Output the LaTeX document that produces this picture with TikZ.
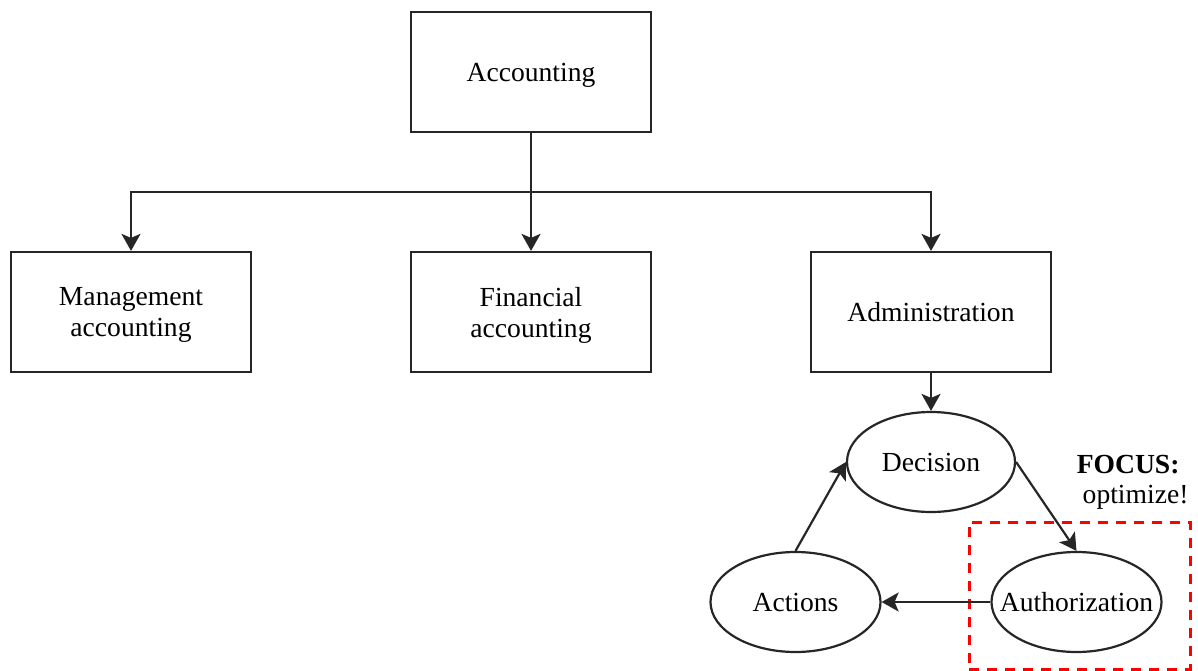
\documentclass[tikz,border=0pt]{standalone}
\usepackage{fontspec}
\setmainfont{Liberation Serif}
\usetikzlibrary{shapes.geometric,arrows.meta}
\tikzset{
  every node/.style={font=\fontsize{27.6}{31}\selectfont},
  boxnode/.style={draw=black!85, line width=2.2pt, minimum width=240pt, minimum height=120pt, inner sep=0pt, align=center, text depth=0pt},
  ellnode/.style={ellipse, draw=black!85, line width=2.2pt, minimum width=170pt, minimum height=100pt, inner sep=0pt},
  arr/.style={draw=black!85, line width=2.2pt, -{Stealth[length=17pt,width=19pt,inset=4pt]}},
  focusbox/.style={draw=red, line width=3pt, dash pattern=on 10pt off 8pt, minimum width=221pt, minimum height=147pt, inner sep=0pt},
}
\begin{document}
\begin{tikzpicture}[x=1pt,y=-1pt]
\useasboundingbox (0,0) rectangle (1198,671);
\node[boxnode] (acc) at (531,72) {Accounting};
\node[boxnode] (mgmt) at (131,312) {Management\\accounting};
\node[boxnode] (fin) at (531,312) {Financial\\accounting};
\node[boxnode] (admin) at (931,312) {Administration};
\coordinate (hub) at (531,192);
\node[ellnode, minimum width=168pt, label=center:Decision] (dec) at (931,462) {};
\node[ellnode, label=center:Actions] (act) at (795.5,602) {};
\node[ellnode, label=center:Authorization] (auth) at (1076.5,602) {};
\node[focusbox] (fbox) at (1079.5,595.5) {};
\node[anchor=east, font=\fontsize{27.6}{31}\selectfont\bfseries] (focus) at (1183,465) {FOCUS:};
\node[anchor=east] (opt) at (1192,497) {optimize!};
\draw[arr] (acc.south) -- (fin.north);
\draw[arr] (hub) -| (mgmt.north);
\draw[arr] (hub) -| (admin.north);
\draw[arr] (admin.south) -- (dec.north);
\draw[arr] (dec.east) -- (auth.north);
\draw[arr] (auth.west) -- (act.east);
\draw[arr] (act.north) -- (dec.west);
\end{tikzpicture}
\end{document}
